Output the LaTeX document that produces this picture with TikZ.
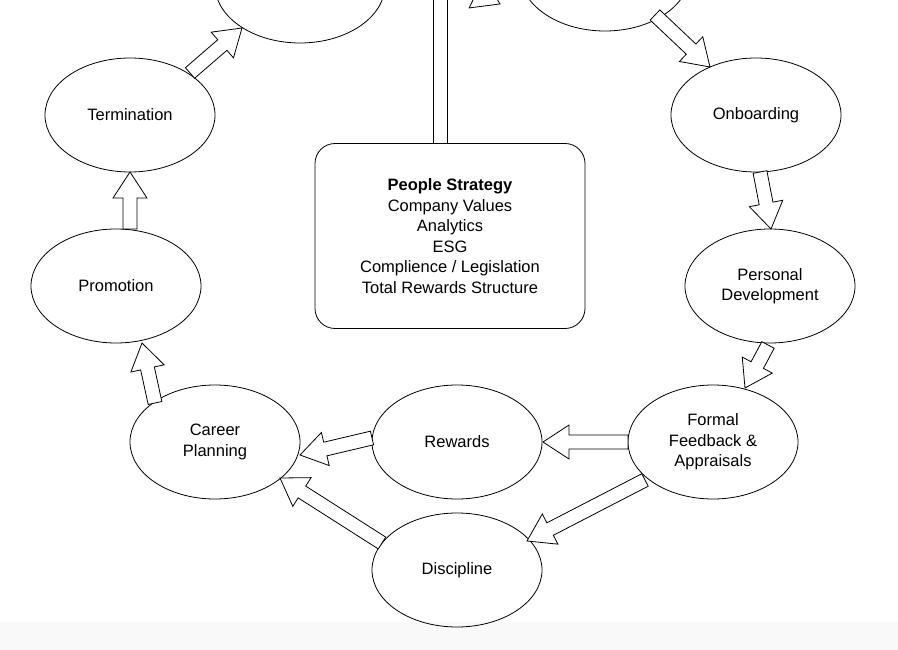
\documentclass[tikz,border=0pt]{standalone}
\usepackage{fontspec}
\setmainfont{Liberation Sans}
\usetikzlibrary{calc,shapes.geometric}
\newcommand\barrow[2]{%
  \draw[blk] let \p1=($(#2)-(#1)$), \n1={atan2(\y1,\x1)}, \n2={veclen(\x1,\y1)} in
   [shift={(#1)}, rotate=\n1] (0pt,-7pt) -- (\n2-26pt,-7pt) -- (\n2-26pt,-17pt) -- (\n2,0pt)
   -- (\n2-26pt,17pt) -- (\n2-26pt,7pt) -- (0pt,7pt) -- cycle;}
\begin{document}
\begin{tikzpicture}[x=1pt,y=-1pt,
  el/.style={draw,thick,ellipse,minimum width=170pt,minimum height=114pt,align=center,font=\fontsize{16.5}{20.5}\selectfont},
  blk/.style={draw,thick,fill=white,line join=miter}]
\useasboundingbox (0,0) rectangle (898,650);
\begin{scope}
\clip (0,0) rectangle (898,650);
\fill[gray!5] (0,622) rectangle (898,650);
\draw[thick,fill=white] (300,-15) ellipse (85pt and 58pt);
\draw[thick,fill=white] (605,-27) ellipse (85pt and 58pt);
\draw[thick,fill=white] (433,-5) rectangle (447,143);
\node[el] (term) at (130,115) {Termination};
\node[el] (onb) at (756,115) {Onboarding};
\node[el] (prom) at (116,286) {Promotion};
\node[el] (pd) at (770,286) {Personal\\Development};
\node[el] (cp) at (215,442) {Career\\Planning};
\node[el] (rew) at (457,442) {Rewards};
\node[el] (ffa) at (713,442) {Formal\\Feedback \&\\Appraisals};
\node[el] (dis) at (457,570) {Discipline};
\node[draw,thick,rounded corners=20pt,minimum width=270pt,minimum height=185pt,align=center,font=\fontsize{16.5}{20.5}\selectfont] (ps) at (450,236)
 {\textbf{People Strategy}\\Company Values\\Analytics\\ESG\\Complience / Legislation\\Total Rewards Structure};
\coordinate (a1) at (190,73); \coordinate (b1) at (242,28);
\coordinate (a2) at (130,229); \coordinate (b2) at (130,172);
\coordinate (a3) at (155,403); \coordinate (b3) at (142,343);
\coordinate (a4) at (372,438); \coordinate (b4) at (300,455);
\coordinate (a5) at (628,442); \coordinate (b5) at (543,442);
\coordinate (a6) at (645,480); \coordinate (b6) at (527,541);
\coordinate (a7) at (382,543); \coordinate (b7) at (280,478);
\coordinate (a8) at (768,345); \coordinate (b8) at (745,388);
\coordinate (a9) at (760,172); \coordinate (b9) at (771,229);
\coordinate (a10) at (655,15); \coordinate (b10) at (710,67);
\coordinate (a11) at (430,-30); \coordinate (b11) at (500,4);
\barrow{a1}{b1}\barrow{a2}{b2}\barrow{a3}{b3}\barrow{a4}{b4}\barrow{a5}{b5}
\barrow{a6}{b6}\barrow{a7}{b7}\barrow{a8}{b8}\barrow{a9}{b9}\barrow{a10}{b10}\barrow{a11}{b11}
\end{scope}
\end{tikzpicture}
\end{document}
